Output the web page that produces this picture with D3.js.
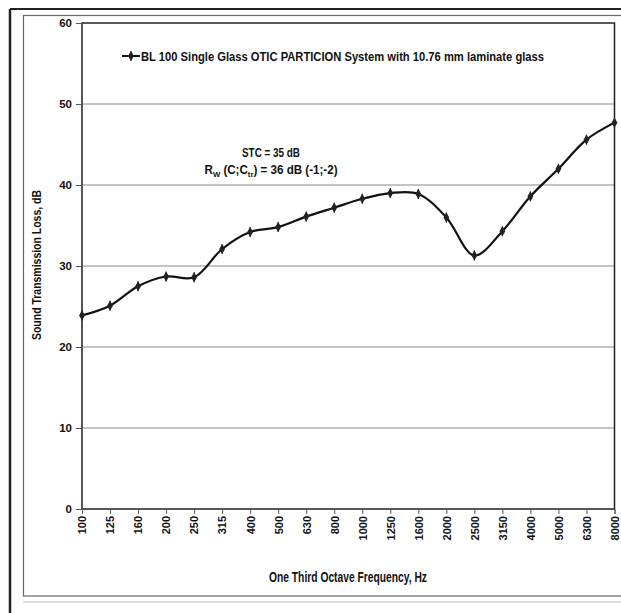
<!DOCTYPE html>
<html><head><meta charset="utf-8">
<script src="https://cdn.jsdelivr.net/npm/d3@7"></script>
<style>
html,body{margin:0;padding:0;background:#fff;}
svg{display:block;}
text{font-family:"Liberation Sans Narrow","Arial Narrow","Liberation Sans",Arial,sans-serif;font-weight:bold;fill:#111;}
</style></head>
<body>
<script>
const frequencies = ["100","125","160","200","250","315","400","500","630","800","1000","1250","1600","2000","2500","3150","4000","5000","6300","8000"];
const transmissionLoss = [23.9,25.1,27.5,28.7,28.6,32.1,34.2,34.8,36.1,37.2,38.3,39.0,38.9,36.0,31.3,34.3,38.6,42.0,45.6,47.7];
const yTicks = [0,10,20,30,40,50,60];
const seriesName = "BL 100 Single Glass OTIC PARTICION System with 10.76 mm laminate glass";

(function(){
const W = 621, H = 613;
const svg = d3.select("body").append("svg").attr("width", W).attr("height", H);

// page / chart frames
svg.append("line").attr("x1",10).attr("x2",W).attr("y1",9).attr("y2",9).attr("stroke","#222").attr("stroke-width",2);
svg.append("line").attr("x1",10).attr("x2",10).attr("y1",9).attr("y2",H).attr("stroke","#222").attr("stroke-width",2.5);
svg.append("rect").attr("x",23.5).attr("y",15.5).attr("width",W).attr("height",580.5)
  .attr("fill","none").attr("stroke","#666").attr("stroke-width",1.2);
svg.append("line").attr("x1",23).attr("x2",W).attr("y1",602).attr("y2",602).attr("stroke","#bbb").attr("stroke-width",1);

const pL = 82, pR = 614.5, pT = 23, pB = 509;
const x = d3.scalePoint().domain(frequencies).range([pL, pR]);
const y = d3.scaleLinear().domain([0,60]).range([pB, pT]);

// gridlines
svg.append("g").selectAll("line").data(yTicks.filter(d => d>0 && d<60)).join("line")
  .attr("x1", pL).attr("x2", pR).attr("y1", d=>y(d)).attr("y2", d=>y(d))
  .attr("stroke","#8a8a8a").attr("stroke-width",1.2);

// plot border
svg.append("rect").attr("x",pL).attr("y",pT).attr("width",pR-pL).attr("height",pB-pT)
  .attr("fill","none").attr("stroke","#222").attr("stroke-width",1.5);

// y axis
const yAxis = svg.append("g").attr("transform",`translate(${pL},0)`)
  .call(d3.axisLeft(y).tickValues(yTicks).tickSize(6).tickPadding(4));
yAxis.select(".domain").attr("stroke","#555");
yAxis.selectAll(".tick line").attr("stroke","#555");
yAxis.selectAll("text").attr("font-size",11.5).attr("fill","#111");

// x axis
const xAxis = svg.append("g").attr("transform",`translate(0,${pB})`)
  .call(d3.axisBottom(x).tickSize(5).tickPadding(4));
xAxis.select(".domain").attr("stroke","#555");
xAxis.selectAll(".tick line").attr("stroke","#555");
xAxis.selectAll("text").attr("font-size",11).attr("fill","#111")
  .attr("transform","rotate(-90)").attr("text-anchor","end")
  .attr("x",-7).attr("y",0).attr("dy","0.35em");
svg.selectAll("g").attr("font-family",null);

// axis titles
svg.append("text").attr("transform","translate(41,265) rotate(-90)")
  .attr("text-anchor","middle").attr("font-size",13)
  .attr("textLength",150).attr("lengthAdjust","spacingAndGlyphs").text("Sound Transmission Loss, dB");
svg.append("text").attr("x",348).attr("y",582).attr("text-anchor","middle")
  .attr("font-size",14).attr("textLength",158).attr("lengthAdjust","spacingAndGlyphs")
  .text("One Third Octave Frequency, Hz");

// line
const line = d3.line().x((d,i)=>x(frequencies[i])).y(d=>y(d)).curve(d3.curveCatmullRom.alpha(0.5));
svg.append("path").datum(transmissionLoss).attr("d",line)
  .attr("fill","none").attr("stroke","#111").attr("stroke-width",2.2);

// markers
const diamond = d3.symbol().type(d3.symbolDiamond).size(30);
const mk = svg.append("g").selectAll("g").data(transmissionLoss).join("g")
  .attr("transform",(d,i)=>`translate(${x(frequencies[i])},${y(d)})`);
mk.append("path").attr("d",diamond).attr("fill","#222");
mk.append("line").attr("x1",0).attr("x2",0).attr("y1",-5).attr("y2",5).attr("stroke","#222").attr("stroke-width",1.2);

// legend
const lg = svg.append("g").attr("transform","translate(0,56)");
lg.append("line").attr("x1",122).attr("x2",140).attr("y1",0).attr("y2",0).attr("stroke","#111").attr("stroke-width",2);
lg.append("path").attr("d",diamond).attr("transform","translate(131,0)").attr("fill","#222");
lg.append("line").attr("x1",131).attr("x2",131).attr("y1",-5).attr("y2",5).attr("stroke","#222").attr("stroke-width",1.2);
lg.append("text").attr("x",141).attr("y",4.5).attr("font-size",12.5)
  .attr("textLength",403).attr("lengthAdjust","spacingAndGlyphs").text(seriesName);

// annotation
svg.append("text").attr("x",271).attr("y",157).attr("text-anchor","middle").attr("font-size",12.5)
  .attr("textLength",58).attr("lengthAdjust","spacingAndGlyphs").text("STC =  35 dB");
const t2 = svg.append("text").attr("x",271).attr("y",174).attr("text-anchor","middle").attr("font-size",12)
  .attr("textLength",133).attr("lengthAdjust","spacingAndGlyphs");
t2.append("tspan").text("R");
t2.append("tspan").attr("font-size",8).attr("dy",3).text("W");
t2.append("tspan").attr("dy",-3).text(" (C;C");
t2.append("tspan").attr("font-size",8).attr("dy",3).text("tr");
t2.append("tspan").attr("dy",-3).text(") = 36 dB (-1;-2)");
})();
</script>
</body></html>
